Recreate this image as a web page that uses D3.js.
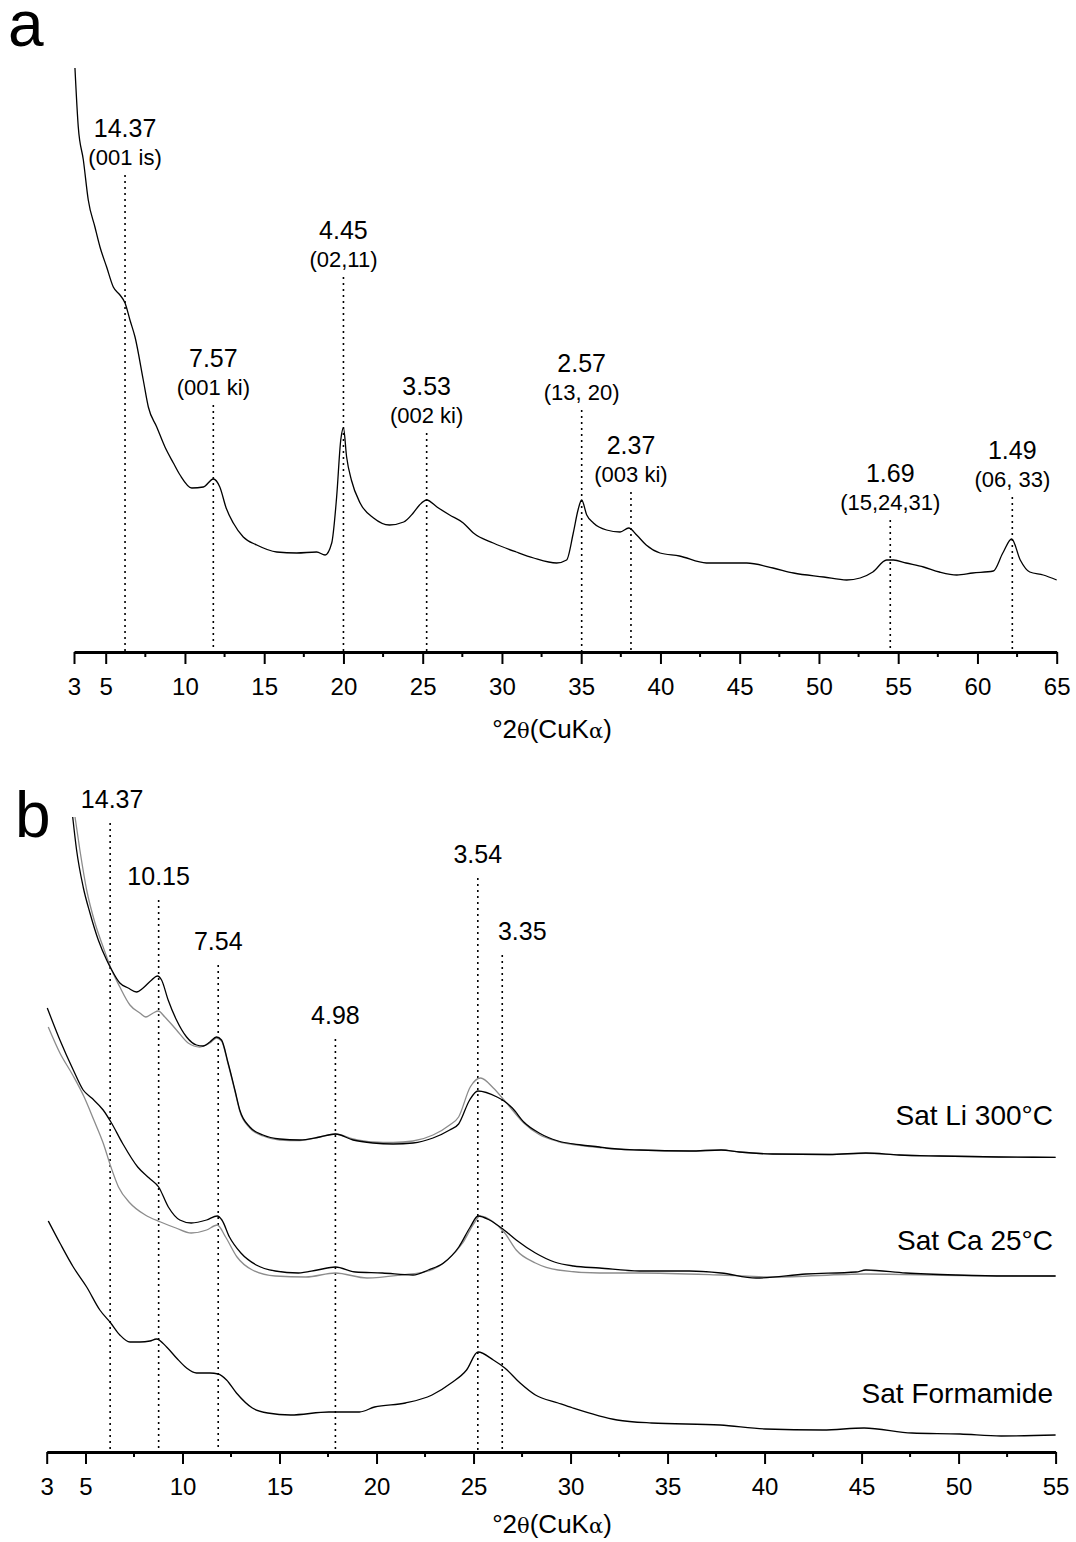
<!DOCTYPE html>
<html><head><meta charset="utf-8">
<script src="https://cdn.jsdelivr.net/npm/d3@7"></script>
<style>
html,body{margin:0;padding:0;background:#fff;}
svg{display:block;font-family:"Liberation Sans",Arial,Helvetica,sans-serif;}
</style></head>
<body><svg id="chart" width="1076" height="1542"></svg>
<script>
// ---------------- DATA ----------------
// Panel a: single XRD trace, [2theta, intensity (a.u.)]
const traceA = [
 [3.06,584],[3.27,525],[3.59,492],[3.9,452],[4.32,425],[4.64,405],[5.06,385],[5.48,365],[5.9,357],[6.22,349],
 [6.53,332],[6.85,315],[7.37,272],[7.69,245],[8.22,225],[8.74,205],[9.27,189],[9.69,177],[10.43,164],[11.16,165],
 [11.79,173],[12.2,165],[12.6,144],[13.05,129],[13.68,115],[14.53,107],[15.79,100],[17.05,99],[18.31,100],[18.84,97],
 [19.26,109],[19.57,155],[19.83,212],[20.0,224],[20.2,195],[20.5,172],[21.05,149],[21.9,134],[22.9,127],[23.8,130],
 [24.4,139],[24.8,147],[25.25,152],[25.9,145],[26.7,137],[27.56,129],[28.2,119],[29.45,109],[30.9,100],[32.0,94],
 [33.45,89],[34.08,92],[34.5,119],[34.8,142],[35.03,152],[35.35,137],[35.77,129],[36.6,122],[37.45,120],[38.0,124],
 [38.5,117],[39.1,107],[39.97,99],[41.2,96],[42.9,89],[44.2,89],[45.44,89],[47.1,84],[48.4,79],[50.3,75],
 [51.75,72],[52.6,74],[53.4,80],[54.27,92],[54.7,92],[55.5,89],[56.6,85],[57.6,80],[58.7,77],[59.7,79],
 [61.0,81],[61.6,99],[62.16,113],[62.7,92],[63.3,80],[64.15,77],[65.0,72]
];
const peaksATheta = [6.22, 11.79, 20.0, 25.25, 35.03, 38.14, 54.5, 62.2];
const peaksAD     = ["14.37","7.57","4.45","3.53","2.57","2.37","1.69","1.49"];
const peaksAHkl   = ["(001 is)","(001 ki)","(02,11)","(002 ki)","(13, 20)","(003 ki)","(15,24,31)","(06, 33)"];
const peaksALevel = [477, 247, 375, 219, 242, 160, 132, 155];
const ticksA = [3,5,10,15,20,25,30,35,40,45,50,55,60,65];
const minorA = [7.5,12.5,17.5,22.5,27.5,32.5,37.5,42.5,47.5,52.5,57.5,62.5];

// Panel b: stacked traces
const liBlack = [
 [4.34,635],[4.54,602],[4.88,565],[5.23,539],[5.66,512],[6.09,492],[6.35,482],[6.77,469],[7.20,464],[7.63,460],
 [7.97,464],[8.41,472],[8.70,476],[8.92,472],[9.26,452],[9.69,432],[10.21,415],[10.72,407],[11.06,406],[11.41,410],
 [11.75,415],[12.01,412],[12.35,389],[12.70,362],[12.95,342],[13.47,325],[14.15,317],[15.01,313],[16.04,312],[17.07,315],
 [17.88,318],[18.79,312],[19.82,309],[20.85,308],[21.88,309],[22.91,314],[23.77,322],[24.23,328],[24.80,352],[25.22,361],
 [26.21,355],[26.57,351],[27.0,344],[27.59,330],[28.38,319],[29.36,311],[30.55,307],[31.49,305],[31.84,304],[33.55,302],
 [36.13,301],[37.76,302],[38.7,300],[40.41,298],[43.33,297.5],[45.22,299],[46.94,297],[49.0,296],[52.08,295],[55.0,294.7]
];
const liGray = [
 [4.46,635],[4.71,602],[5.06,562],[5.49,529],[5.91,505],[6.35,482],[6.77,465],[7.29,447],[7.80,439],[8.11,435],
 [8.49,439],[8.75,441],[9.09,435],[9.69,422],[10.29,409],[10.89,405],[11.41,409],[11.75,414],[12.01,411],[12.35,388],
 [12.70,361],[12.95,341],[13.47,324],[14.15,316],[15.01,312],[16.04,311.5],[17.07,315],[17.88,318],[18.79,313],[19.82,310],
 [20.85,309.5],[21.88,311],[22.91,317],[23.77,327],[24.23,335],[24.83,365],[25.36,374],[26.02,364],[26.57,352],[27.0,342],
 [27.59,329],[28.38,317.5],[29.36,310.5],[30.55,306.5],[31.49,304.5],[31.84,303.7],[33.55,302],[36.13,301],[37.76,302],[38.7,300],
 [40.41,298],[43.33,297.5],[45.22,298.7],[46.94,297],[49.0,296],[52.08,295],[55.0,294.7]
];
const caBlack = [
 [3.03,444],[3.68,412],[4.37,382],[4.88,362],[5.32,354],[5.91,342],[6.31,330],[6.90,309],[7.69,285],[8.28,274],
 [8.77,265],[9.27,245],[9.86,232],[10.45,229],[11.24,232],[11.79,236],[12.03,232],[12.42,215],[13.01,199],[13.80,187],
 [14.78,181],[15.97,179],[16.95,182],[17.88,185],[18.92,180],[20.30,179],[21.88,177],[22.67,182],[23.45,189],[24.24,205],
 [24.83,225],[25.23,236],[25.82,232],[26.57,222],[27.20,212],[28.19,199],[29.17,190],[30.15,186],[31.49,184],[33.55,181],
 [36.13,181],[37.76,179],[39.56,174],[42.14,178],[44.71,180],[45.22,182],[47.28,179],[49.86,177],[52.43,176],[55.0,176]
];
const caGray = [
 [3.08,425],[3.68,399],[4.34,377],[4.93,355],[5.43,332],[5.91,309],[6.31,285],[6.70,265],[7.29,249],[8.08,237],
 [8.87,230],[9.66,224],[10.45,219],[11.24,222],[11.79,227],[12.22,215],[12.81,195],[13.60,182],[14.78,176],[16.36,175],
 [17.88,179],[19.51,174],[21.29,177],[22.67,181],[23.65,192],[24.44,209],[25.03,229],[25.33,236],[26.02,230],[26.61,219],
 [27.20,202],[28.19,189],[29.36,182],[31.49,179],[33.55,179],[37.76,177],[40.41,175],[45.22,178],[50.0,176.5],[55.0,176]
];
const formamide = [
 [3.08,231],[3.68,209],[4.37,185],[5.06,165],[5.74,142],[6.30,129],[6.77,117],[7.29,110],[7.80,110],[8.32,111],
 [8.66,113],[9.18,105],[9.69,94],[10.21,84],[10.72,79],[11.41,79],[11.84,78],[12.27,72],[12.78,59],[13.60,44],
 [14.39,39],[15.57,37],[17.54,40],[19.12,40],[19.90,45],[21.49,49],[22.86,57],[23.85,69],[24.64,82],[25.23,100],
 [26.02,92],[26.61,84],[27.40,69],[28.19,57],[29.36,49],[30.12,44],[32.40,32],[34.17,29],[37.71,27],[40.04,23],
 [43.0,22],[45.13,24],[47.60,19],[50.08,18],[52.19,16],[55.0,17]
];
const seriesNames = ["Sat Li 300°C","Sat Ca 25°C","Sat Formamide"];
const seriesLabelLevel = [327, 202, 49];
const peaksBTheta = [6.27, 8.77, 11.84, 17.88, 25.22, 26.48];
const peaksBD     = ["14.37","10.15","7.54","4.98","3.54","3.35"];
const peaksBLevel = [629, 552, 487, 413, 574, 497];
const ticksB = [3,5,10,15,20,25,30,35,40,45,50,55];
const minorB = [7.5,12.5,17.5,22.5,27.5,32.5,37.5,42.5,47.5,52.5];
const axisTitle = ["°2","θ","(CuK","α",")"];

// ---------------- LAYOUT / STYLE ----------------
const L = {
  a:{x0:74, x1:1056.7, yAxis:652, yTop:52, yMax:600, titleDy:86},
  b:{x0:46.7, x1:1055.6, yAxis:1452, yTop:812, yMax:640, titleDy:81},
  titleX:552,
  font:'"Liberation Sans",Arial,Helvetica,sans-serif'
};
const labelShiftB = {"3.35":20, "14.37":2};

const svg = d3.select("#chart");

function drawAxis(xs, P, ticks, minor){
  const g = svg.append("g").attr("transform",`translate(0,${P.yAxis})`);
  const ax = d3.axisBottom(xs).tickValues(ticks).tickSize(12).tickSizeOuter(0).tickPadding(8);
  g.call(ax);
  g.select(".domain").attr("stroke","#000").attr("stroke-width",3);
  g.selectAll(".tick line").attr("stroke","#000").attr("stroke-width",2);
  g.selectAll(".tick text").attr("font-size",24).attr("font-family",L.font).attr("fill","#000").attr("dy","0.95em");
  g.selectAll(".minor").data(minor).enter().append("line")
    .attr("x1",d=>xs(d)).attr("x2",d=>xs(d)).attr("y1",0).attr("y2",5)
    .attr("stroke","#000").attr("stroke-width",2);
  const t = svg.append("text").attr("x",L.titleX).attr("y",P.yAxis+P.titleDy)
    .attr("text-anchor","middle").attr("font-size",26).attr("font-family",L.font);
  axisTitle.forEach((s,i)=>{
    const ts=t.append("tspan").text(s);
    if(i===1||i===3){ts.attr("font-family",'"DejaVu Serif",serif').attr("font-size",21);}
  });
}

function dotted(x, yTop, yBot){
  svg.append("line").attr("x1",x).attr("x2",x).attr("y1",yTop).attr("y2",yBot)
    .attr("stroke","#000").attr("stroke-width",1.6).attr("stroke-dasharray","2,4");
}

// ---------- Panel a ----------
const xA = d3.scaleLinear().domain([3,65]).range([L.a.x0,L.a.x1]);
const yA = d3.scaleLinear().domain([0,L.a.yMax]).range([L.a.yAxis,L.a.yTop]);
const lineA = d3.line().x(d=>xA(d[0])).y(d=>yA(d[1])).curve(d3.curveMonotoneX);

peaksATheta.forEach((t,i)=>{
  const top = yA(peaksALevel[i]);
  dotted(xA(t), top, L.a.yAxis);
  svg.append("text").attr("x",xA(t)).attr("y",top-38).attr("text-anchor","middle")
    .attr("font-size",25).text(peaksAD[i]);
  svg.append("text").attr("x",xA(t)).attr("y",top-10).attr("text-anchor","middle")
    .attr("font-size",22).text(peaksAHkl[i]);
});
svg.append("path").datum(traceA).attr("d",lineA).attr("fill","none").attr("stroke","#000").attr("stroke-width",1.3);
drawAxis(xA, L.a, ticksA, minorA);
svg.append("text").attr("x",8).attr("y",46).attr("font-size",64).text("a");

// ---------- Panel b ----------
const xB = d3.scaleLinear().domain([3,55]).range([L.b.x0,L.b.x1]);
const yB = d3.scaleLinear().domain([0,L.b.yMax]).range([L.b.yAxis,L.b.yTop]);
const lineB = d3.line().x(d=>xB(d[0])).y(d=>yB(d[1])).curve(d3.curveMonotoneX);

peaksBTheta.forEach((t,i)=>{
  const top = yB(peaksBLevel[i]);
  dotted(xB(t), top, L.b.yAxis);
  svg.append("text").attr("x",xB(t)+(labelShiftB[peaksBD[i]]||0)).attr("y",top-15).attr("text-anchor","middle")
    .attr("font-size",25).text(peaksBD[i]);
});
[[liGray,"#8c8c8c"],[caGray,"#8c8c8c"],[liBlack,"#000"],[caBlack,"#000"],[formamide,"#000"]].forEach(([d,c])=>{
  svg.append("path").datum(d).attr("d",lineB).attr("fill","none").attr("stroke",c).attr("stroke-width",1.3);
});
seriesNames.forEach((n,i)=>{
  svg.append("text").attr("x",1053).attr("y",yB(seriesLabelLevel[i])).attr("text-anchor","end")
    .attr("font-size",28).text(n);
});
drawAxis(xB, L.b, ticksB, minorB);
svg.append("text").attr("x",15).attr("y",837).attr("font-size",64).text("b");
</script></body></html>
